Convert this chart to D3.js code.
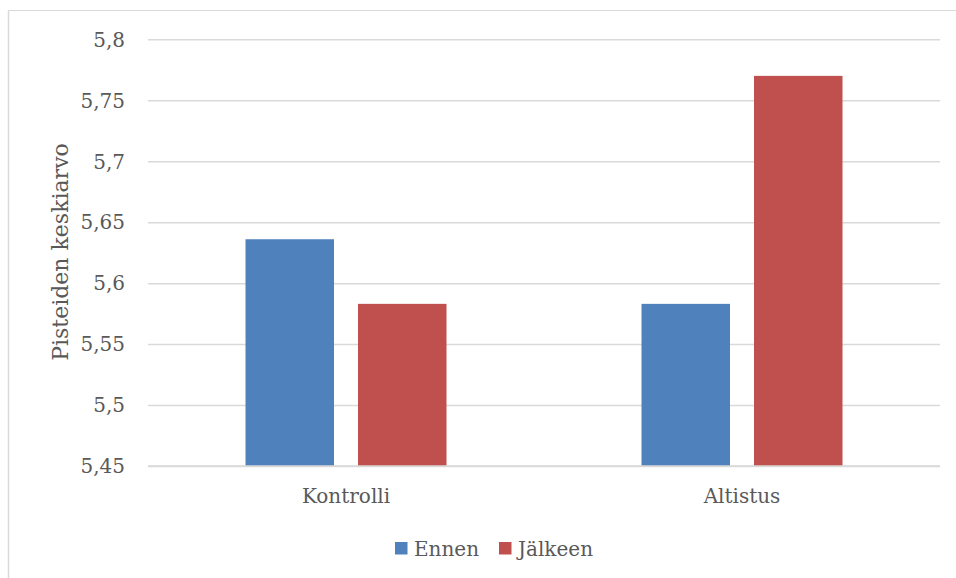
<!DOCTYPE html>
<html><head><meta charset="utf-8">
<script src="https://cdn.jsdelivr.net/npm/d3@7"></script>
<style>body{margin:0;background:#fff}svg{display:block}text{font-family:"DejaVu Serif",serif;fill:#595959}</style>
</head><body>
<svg id="c" width="956" height="578"></svg>
<script>
const categories = ["Kontrolli", "Altistus"];
const seriesNames = ["Ennen", "Jälkeen"];
const ennen = [5.636, 5.583];
const jalkeen = [5.583, 5.770];
const yTicks = [5.45, 5.5, 5.55, 5.6, 5.65, 5.7, 5.75, 5.8];
const colors = ["#4F81BD", "#C0504D"];

const svg = d3.select("#c");
const fs = 20;
// frame
svg.append("line").attr("x1",8.5).attr("x2",956).attr("y1",10.5).attr("y2",10.5).attr("stroke","#D9D9D9").attr("stroke-width",1);
svg.append("line").attr("x1",8.5).attr("x2",8.5).attr("y1",10.5).attr("y2",578).attr("stroke","#D9D9D9").attr("stroke-width",1.5);

const pLeft = 148, pRight = 940, pTop = 39.3, pBottom = 466;
const y = d3.scaleLinear().domain([5.45, 5.8]).range([pBottom, pTop]);
const x0 = d3.scaleBand().domain(categories).range([pLeft, pRight]).padding(0);
const x1 = d3.scaleBand().domain(seriesNames).range([0, x0.bandwidth()]).paddingInner(0.2133).paddingOuter(0.8667);

// gridlines
const ax = d3.axisLeft(y).tickValues(yTicks).tickSize(-(pRight-pLeft)).tickPadding(23)
  .tickFormat(d => d3.format(".2~f")(d).replace(".", ","));
const g = svg.append("g").attr("transform", `translate(${pLeft},0)`).call(ax);
g.select(".domain").remove();
g.selectAll(".tick line").attr("stroke", "#D9D9D9").attr("stroke-width", 1.5);
g.selectAll(".tick text").attr("font-size", fs).attr("font-family", '"DejaVu Serif",serif').attr("fill","#595959").attr("dy","0.34em");

// bars
const rows = categories.map((c,i) => ({cat:c, vals:[ennen[i], jalkeen[i]]}));
const cg = svg.selectAll(".cat").data(rows).enter().append("g").attr("transform", d => `translate(${x0(d.cat)},0)`);
cg.selectAll("rect").data(d => d.vals.map((v,j) => ({s:seriesNames[j], v, j}))).enter().append("rect")
  .attr("x", d => x1(d.s)).attr("width", x1.bandwidth())
  .attr("y", d => y(d.v)).attr("height", d => y(5.45) - y(d.v))
  .attr("fill", d => colors[d.j]);

// baseline redraw over bars
svg.append("line").attr("x1",pLeft).attr("x2",pRight).attr("y1",y(5.45)).attr("y2",y(5.45)).attr("stroke","#D9D9D9").attr("stroke-width",1.5);

// category labels
svg.selectAll(".cl").data(categories).enter().append("text")
  .attr("x", d => x0(d) + x0.bandwidth()/2).attr("y", 503)
  .attr("text-anchor","middle").attr("font-size", fs).text(d => d);

// y title
svg.append("text").attr("transform","translate(68,252) rotate(-90)").attr("text-anchor","middle")
  .attr("font-size", 22).text("Pisteiden keskiarvo");

// legend
const lx = [395, 499];
seriesNames.forEach((s,i) => {
  svg.append("rect").attr("x", lx[i]).attr("y", 542).attr("width", 12.5).attr("height", 12.5).attr("fill", colors[i]);
  svg.append("text").attr("x", lx[i] + 19).attr("y", 556).attr("font-size", fs).text(s);
});
</script>
</body></html>
